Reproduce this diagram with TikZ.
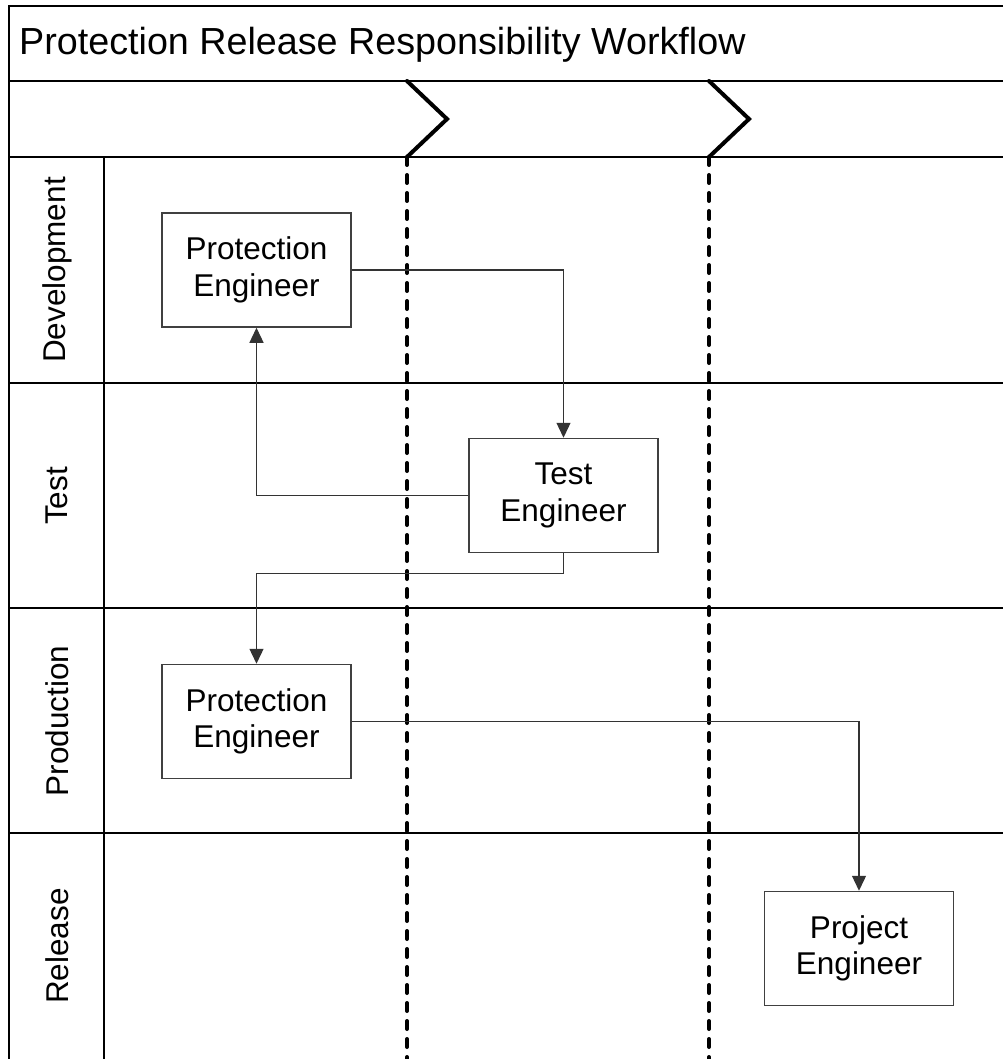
\documentclass[tikz,border=0pt]{standalone}
\usepackage{fontspec}
\setmainfont{Liberation Sans}
\usetikzlibrary{arrows.meta}
\definecolor{boxgray}{HTML}{404040}
\definecolor{linegray}{HTML}{333333}
\tikzset{
  rolebox/.style={draw=boxgray, fill=white, line width=1.5pt, minimum width=189pt, minimum height=114pt,
    align=center, inner sep=0pt, font=\fontsize{31.5}{36.5}\selectfont},
  lanelabel/.style={rotate=90, inner sep=0pt, font=\fontsize{31.5}{35}\selectfont},
  flow/.style={draw=linegray, line width=1.3pt, -{Triangle[length=15pt,width=14pt]}},
  phase/.style={line width=4pt, line cap=round},
  phasedots/.style={line width=4pt, line cap=round, dash pattern=on 8pt off 10pt}
}
\begin{document}
\begin{tikzpicture}[x=1pt, y=-1pt]
 \useasboundingbox (0,0) rectangle (1003,1059);

 % frame and title
 \draw[line width=1.5pt] (1003,6) -- (9,6) -- (9,1059);
 \draw[line width=1.5pt] (9,81) -- (1003,81);
 \node[anchor=base west, inner sep=0pt, font=\fontsize{37.7}{42}\selectfont] (title) at (19,55)
   {Protection Release Responsibility Workflow};

 % lanes
 \draw[line width=1.2pt] (104,157) -- (104,1059);
 \foreach \y/\lane in { 157/Development, 383/Test, 608/Production, 833/Release } {
         \draw[line width=1.5pt] (9,\y) -- (1003,\y);
         \node[lanelabel] (l\lane) at (57,\y+113) {\lane};
 }

 % phase separators
 \foreach \x in { 407, 709 } {
         \draw[phase] (\x,81) -- (\x+40,119) -- (\x,157);
         \draw[phasedots] (\x,157) -- (\x,1062);
 }

 % roles
 \node[rolebox] (dpe) at (256.5,270) {Protection\\Engineer};
 \node[rolebox] (te) at (563.5,495.5) {Test\\Engineer};
 \node[rolebox] (ppe) at (256.5,721.5) {Protection\\Engineer};
 \node[rolebox] (pje) at (859,948.5) {Project\\Engineer};

 % lines
 \draw[flow] (dpe.east) -| (te.north);
 \draw[flow] (te.west) -| (dpe.south);
 \draw[flow] (te.south) -- ++(0,20) -| (ppe.north);
 \draw[flow] (ppe.east) -| (pje.north);

\end{tikzpicture}
\end{document}
